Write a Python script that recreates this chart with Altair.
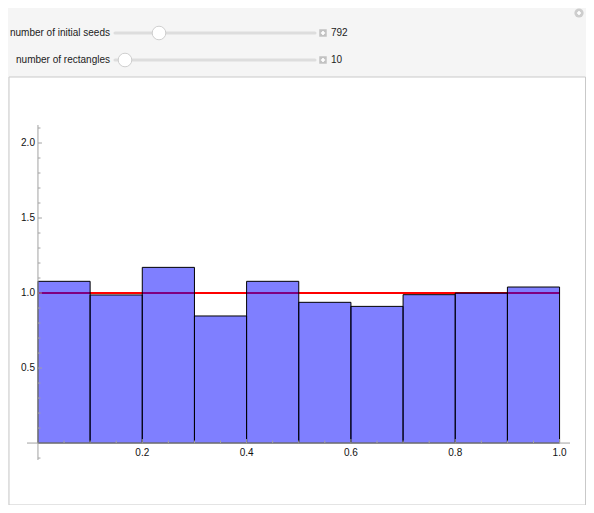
import altair as alt
import pandas as pd

# ---------------- data ----------------
bin_starts = [0.0, 0.1, 0.2, 0.3, 0.4, 0.5, 0.6, 0.7, 0.8, 0.9]
bin_ends = [0.1, 0.2, 0.3, 0.4, 0.5, 0.6, 0.7, 0.8, 0.9, 1.0]
densities = [1.078, 0.987, 1.171, 0.847, 1.078, 0.938, 0.911, 0.989, 1.0, 1.04]
pdf_level = [1.0]

x_major_ticks = [0.2, 0.4, 0.6, 0.8, 1.0]
x_major_labels = ["0.2", "0.4", "0.6", "0.8", "1.0"]
x_minor_ticks = [0.05, 0.1, 0.15, 0.25, 0.3, 0.35, 0.45, 0.5, 0.55,
                 0.65, 0.7, 0.75, 0.85, 0.9, 0.95]
y_major_ticks = [0.5, 1.0, 1.5, 2.0]
y_major_labels = ["0.5", "1.0", "1.5", "2.0"]
y_minor_ticks = [-0.1, 0.1, 0.2, 0.3, 0.4, 0.6, 0.7, 0.8, 0.9, 1.1, 1.2,
                 1.3, 1.4, 1.6, 1.7, 1.8, 1.9, 2.1]
x_range = [-0.021, 1.02]
y_range = [-0.113, 2.12]

control_labels = ["number of initial seeds", "number of rectangles"]
control_values = ["792", "10"]
knob_fraction = [0.22, 0.05]

# ---------------- layout ----------------
W, H = 543, 335
FONT = "Liberation Sans"
AXIS_COLOR = "#a2a2a2"
xs = alt.Scale(domain=x_range, nice=False, zero=False)
ys = alt.Scale(domain=y_range, nice=False, zero=False)
px_x = (x_range[1] - x_range[0]) / W
px_y = (y_range[1] - y_range[0]) / H

dummy = pd.DataFrame({"k": [0]})

layers = []

# white plot panel
layers.append(
    alt.Chart(dummy).mark_rect(fill="white", stroke="#c9c9c9", strokeWidth=1).encode(
        x=alt.value(-18), x2=alt.value(558.5), y=alt.value(-48), y2=alt.value(380)
    )
)

# top-right icon
layers.append(
    alt.Chart(dummy).mark_point(shape="circle", filled=True, color="#cdcdcd", size=85, opacity=1).encode(
        x=alt.value(552), y=alt.value(-112)
    )
)
layers.append(
    alt.Chart(dummy).mark_point(shape="cross", filled=True, color="white", size=16, opacity=1).encode(
        x=alt.value(552), y=alt.value(-112)
    )
)

# controls
track_x0, track_x1 = 88, 288
for i, (lab, val) in enumerate(zip(control_labels, control_values)):
    yy = -92 + 27 * i
    cdf = pd.DataFrame({"label": [lab], "value": [val]})
    base = alt.Chart(cdf)
    kx = track_x0 + knob_fraction[i] * (track_x1 - track_x0)
    layers += [
        base.mark_text(align="right", baseline="middle", font=FONT, fontSize=10, color="#222222").encode(
            text="label:N", x=alt.value(83), y=alt.value(yy)
        ),
        base.mark_rule(stroke="#dddddd", strokeWidth=3, strokeCap="round").encode(
            x=alt.value(track_x0), x2=alt.value(track_x1), y=alt.value(yy)
        ),
        base.mark_point(shape="circle", filled=True, fill="white", stroke="#c4c4c4",
                        strokeWidth=0.8, size=185, opacity=1).encode(
            x=alt.value(kx), y=alt.value(yy)
        ),
        base.mark_point(shape="square", filled=True, color="#c2c2c2", size=56, opacity=1).encode(
            x=alt.value(296), y=alt.value(yy)
        ),
        base.mark_point(shape="cross", filled=True, color="white", size=18, opacity=1).encode(
            x=alt.value(296), y=alt.value(yy)
        ),
        base.mark_text(align="left", baseline="middle", font=FONT, fontSize=10, color="#222222").encode(
            text="value:N", x=alt.value(304), y=alt.value(yy)
        ),
    ]

# red reference line (uniform density)
red_df = pd.DataFrame({"x0": [bin_starts[0]], "x1": [bin_ends[-1]], "y": pdf_level})
layers.append(
    alt.Chart(red_df).mark_rule(color="#ff0000", strokeWidth=2).encode(
        x=alt.X("x0:Q", scale=xs, axis=None), x2="x1:Q",
        y=alt.Y("y:Q", scale=ys, axis=None)
    )
)

# histogram bars
bars_df = pd.DataFrame({"start": bin_starts, "end": bin_ends, "density": densities,
                        "base": [0.0] * len(densities)})
layers.append(
    alt.Chart(bars_df).mark_rect(fill="#0000ff", fillOpacity=0.5, stroke="black", strokeWidth=1).encode(
        x=alt.X("start:Q", scale=xs, axis=None), x2="end:Q",
        y=alt.Y("density:Q", scale=ys, axis=None), y2="base:Q"
    )
)

# axis lines
xaxis_df = pd.DataFrame({"x0": [x_range[0]], "x1": [x_range[1]], "y": [0.0]})
yaxis_df = pd.DataFrame({"x": [0.0], "y0": [y_range[0]], "y1": [y_range[1]]})
layers.append(
    alt.Chart(xaxis_df).mark_rule(color=AXIS_COLOR, strokeWidth=1).encode(
        x=alt.X("x0:Q", scale=xs, axis=None), x2="x1:Q", y=alt.Y("y:Q", scale=ys, axis=None)
    )
)
layers.append(
    alt.Chart(yaxis_df).mark_rule(color=AXIS_COLOR, strokeWidth=1).encode(
        x=alt.X("x:Q", scale=xs, axis=None), y=alt.Y("y0:Q", scale=ys, axis=None), y2="y1:Q"
    )
)

# ticks
def yticks(vals, length):
    return pd.DataFrame({"y": vals, "x0": [0.0] * len(vals), "x1": [length * px_x] * len(vals)})

def xticks(vals, length):
    return pd.DataFrame({"x": vals, "y0": [0.0] * len(vals), "y1": [length * px_y] * len(vals)})

for df in (yticks(y_major_ticks, 4), yticks(y_minor_ticks, 2.5)):
    layers.append(
        alt.Chart(df).mark_rule(color=AXIS_COLOR, strokeWidth=1).encode(
            x=alt.X("x0:Q", scale=xs, axis=None), x2="x1:Q", y=alt.Y("y:Q", scale=ys, axis=None)
        )
    )
for df in (xticks(x_major_ticks, 4), xticks(x_minor_ticks, 2.5)):
    layers.append(
        alt.Chart(df).mark_rule(color=AXIS_COLOR, strokeWidth=1).encode(
            x=alt.X("x:Q", scale=xs, axis=None), y=alt.Y("y0:Q", scale=ys, axis=None), y2="y1:Q"
        )
    )

# tick labels
xl_df = pd.DataFrame({"x": x_major_ticks, "label": x_major_labels, "y": [0.0] * len(x_major_ticks)})
yl_df = pd.DataFrame({"y": y_major_ticks, "label": y_major_labels, "x": [0.0] * len(y_major_ticks)})
layers.append(
    alt.Chart(xl_df).mark_text(font=FONT, fontSize=10, color="#111111", baseline="middle",
                               align="center", dy=10).encode(
        x=alt.X("x:Q", scale=xs, axis=None), y=alt.Y("y:Q", scale=ys, axis=None), text="label:N"
    )
)
layers.append(
    alt.Chart(yl_df).mark_text(font=FONT, fontSize=10, color="#111111", baseline="middle",
                               align="right", dx=-3).encode(
        x=alt.X("x:Q", scale=xs, axis=None), y=alt.Y("y:Q", scale=ys, axis=None), text="label:N"
    )
)

chart = (
    alt.layer(*layers)
    .properties(
        width=W, height=H,
        autosize=alt.AutoSizeParams(type="none"),
        padding={"left": 19, "top": 117, "right": 16, "bottom": 45},
    )
    .configure(background="#f5f5f5")
    .configure_view(stroke=None)
)

chart.save("out.html", embed_options={"renderer": "svg", "actions": False})
